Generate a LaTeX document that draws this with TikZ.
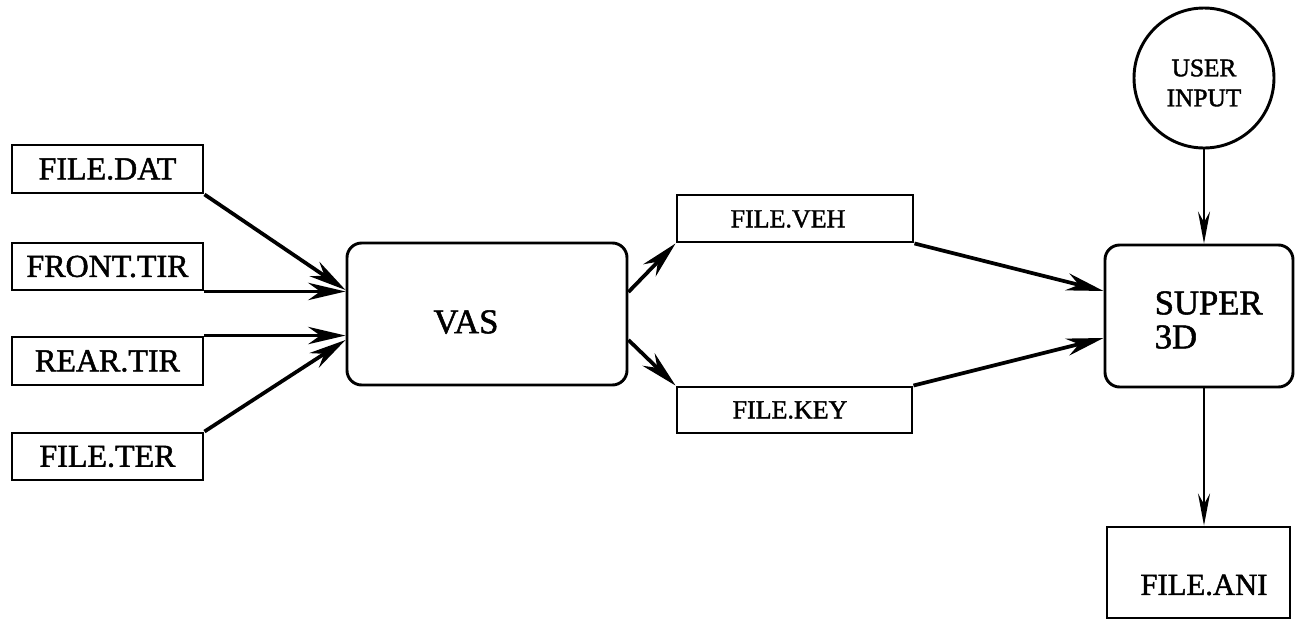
\documentclass[tikz,border=0pt]{standalone}
\usepackage{fontspec}
\setmainfont{Liberation Serif}
\newfontfamily\tms{Liberation Serif}[FakeBold=1.5]
\usetikzlibrary{arrows.meta,calc}
\begin{document}
\begin{tikzpicture}[x=0.75pt,y=-0.75pt,
  filebox/.style={draw, line width=2.2pt, rectangle, inner sep=0pt},
  procbox/.style={draw, line width=2.2pt, rounded corners=11pt, inner sep=0pt},
  flow/.style={line width=2.8pt, -{Stealth[length=28pt,width=13pt,inset=9pt]}},
  vflow/.style={line width=1.9pt, -{Stealth[length=24pt,width=9pt,inset=8pt]}},
  bigfont/.style={font=\tms\fontsize{24}{24}\selectfont},
  midfont/.style={font=\tms\fontsize{19.5}{19.5}\selectfont},
  procfont/.style={font=\tms\fontsize{26}{25.5}\selectfont},
]
\useasboundingbox (0,0) rectangle (1297,622);

% input files
\node[filebox, bigfont, minimum width=143.25pt, minimum height=36pt] (dat) at (107.5,169) {FILE.DAT};
\node[filebox, bigfont, minimum width=143.25pt, minimum height=35.25pt] (front) at (107.5,266.5) {FRONT.TIR};
\node[filebox, bigfont, minimum width=143.25pt, minimum height=36pt] (rear) at (107.5,361) {REAR.TIR};
\node[filebox, bigfont, minimum width=143.25pt, minimum height=35.25pt] (ter) at (107.5,456.5) {FILE.TER};

% VAS
\node[procbox, minimum width=210pt, minimum height=106.5pt] (vas) at (487,314) {};
\node[procfont] (vastext) at (466,322) {VAS};

% intermediate files
\node[filebox, minimum width=177pt, minimum height=35.25pt] (veh) at (795,218.5) {};
\node[midfont] (vehtext) at (788,219) {FILE.VEH};
\node[filebox, minimum width=176.25pt, minimum height=34.5pt] (key) at (794.5,410) {};
\node[midfont] (keytext) at (790,410) {FILE.KEY};

% SUPER 3D
\node[procbox, minimum width=141pt, minimum height=106.5pt] (super) at (1199,316) {};
\node[procfont, align=left, anchor=west] (supertext) at (1150,320) {SUPER\\3D};

% user input
\node[draw, circle, line width=2.2pt, minimum size=105pt, inner sep=0pt] (user) at (1204,78) {};
\node[font=\tms\fontsize{19}{22.5}\selectfont, align=center] (usertext) at (1204,83) {USER\\INPUT};

% output
\node[filebox, minimum width=137.25pt, minimum height=68.25pt] (ani) at (1198.5,572.5) {};
\node[font=\tms\fontsize{23}{23}\selectfont] (anitext) at (1204,585) {FILE.ANI};

% connectors
\draw[flow] (dat.south east) -- ($(vas.west)+(0,-24)$);
\draw[flow] (front.south east) -- (front.south east -| vas.west);
\draw[flow] (rear.north east) -- (rear.north east -| vas.west);
\draw[flow] (ter.north east) -- ($(vas.west)+(0,26)$);

\draw[flow] ($(vas.east)+(0,-22)$) -- (veh.south west);
\draw[flow] ($(vas.east)+(0,26)$) -- (key.north west);

\draw[flow] (veh.south east) -- ($(super.west)+(0,-25)$);
\draw[flow] (key.north east) -- ($(super.west)+(0,22)$);

\draw[vflow] (user.south) -- (user.south |- super.north);
\draw[vflow] (user.south |- super.south) -- (user.south |- ani.north);
\end{tikzpicture}
\end{document}
